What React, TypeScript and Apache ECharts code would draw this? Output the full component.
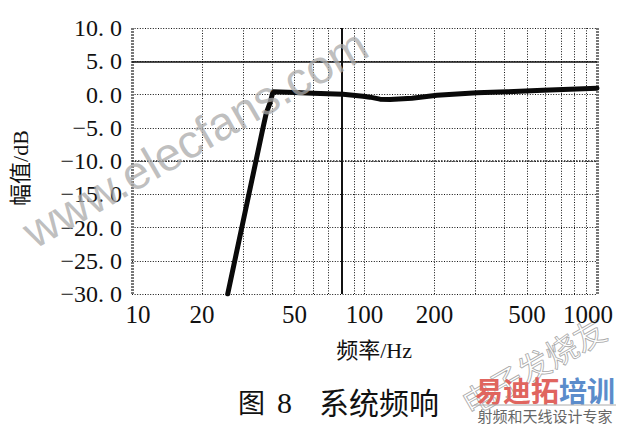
import React, { useEffect, useRef } from "react";
import * as echarts from "echarts";

// Frequency response (Hz, dB)
const freqs = [25.8, 36.6, 37.8, 39.2, 40.4, 50, 60, 80.8, 98.5, 105.6, 116.6, 128.8, 160, 205, 305, 410, 586, 1000];
const gains = [-30, -5.0, -2.8, -1.3, 0.4, 0.3, 0.2, 0.05, -0.25, -0.4, -0.7, -0.75, -0.55, -0.1, 0.25, 0.4, 0.65, 0.95];

const xTickLabels = [10, 20, 50, 100, 200, 500, 1000];
const xMinorGrid = [20, 30, 40, 50, 60, 70, 90, 100, 200, 300, 400, 500, 600, 700, 800, 900];
const xHeavyGrid = [80];
const xFrameGrid = [10, 1000];
const ySolidGrid = [5];
const yHeavyGrid = [-10];

const SERIF = "'Liberation Serif', 'Times New Roman', serif";
const CJK = "'Liberation Serif', 'Noto Sans CJK SC', serif";

export default function App() {
  const ref = useRef<HTMLDivElement>(null);
  useEffect(() => {
    if (!ref.current) return;
    const chart = echarts.init(ref.current, null, { renderer: "svg" });
    const dotted = [1, 1.6];
    const markData: any[] = [];
    xMinorGrid.forEach((v) =>
      markData.push({ xAxis: v, lineStyle: { color: "#111", width: 1, type: dotted } })
    );
    xFrameGrid.forEach((v) =>
      markData.push({ xAxis: v, lineStyle: { color: "#777", width: 3, type: [2, 1] } })
    );
    xHeavyGrid.forEach((v) =>
      markData.push({ xAxis: v, lineStyle: { color: "#111", width: 2, type: "solid" } })
    );
    ySolidGrid.forEach((v) =>
      markData.push({ yAxis: v, lineStyle: { color: "#111", width: 1.5, type: "solid" } })
    );
    yHeavyGrid.forEach((v) =>
      markData.push({ yAxis: v, lineStyle: { color: "#222", width: 1.5, type: [1.5, 1.5] } })
    );

    chart.setOption({
      animation: false,
      backgroundColor: "#fff",
      grid: { left: 132, right: 25, top: 28, bottom: 137, containLabel: false },
      xAxis: {
        type: "log",
        logBase: 10,
        min: 10,
        max: 1000,
        axisLine: { show: false },
        axisTick: { show: false },
        splitLine: { show: false },
        minorSplitLine: { show: false },
        axisLabel: {
          customValues: xTickLabels,
          margin: 8,
          color: "#111",
          fontSize: 25,
          fontFamily: SERIF,
          formatter: (v: number) =>
            v === 10 ? "{first|10}" : v === 1000 ? "{last|1000}" : String(v),
          rich: {
            first: { padding: [0, 0, 0, 12], fontSize: 25, fontFamily: SERIF, color: "#111" },
            last: { padding: [0, 18, 0, 0], fontSize: 25, fontFamily: SERIF, color: "#111" },
          },
        },
      },
      yAxis: {
        type: "value",
        min: -30,
        max: 10,
        interval: 5,
        axisLine: { show: false },
        axisTick: { show: false },
        splitLine: { show: true, lineStyle: { color: "#111", width: 1, type: dotted } },
        axisLabel: {
          margin: 10,
          color: "#111",
          fontSize: 24,
          fontFamily: SERIF,
          formatter: (v: number) =>
            (v < 0 ? "\u2212" : "") + Math.abs(v).toFixed(1).replace(".", ". "),
        },
      },
      series: [
        {
          type: "line",
          z: 1,
          clip: false,
          silent: true,
          data: [[10, -30]],
          symbol: "none",
          lineStyle: { width: 0 },
          markLine: {
            silent: true,
            symbol: "none",
            label: { show: false },
            emphasis: { disabled: true },
            data: markData,
          },
        },
        {
          type: "line",
          z: 5,
          data: freqs.map((f, i) => [f, gains[i]]),
          symbol: "none",
          smooth: false,
          lineStyle: { color: "#0a0a0a", width: 5, join: "round", cap: "round" },
        },
      ],
      graphic: [
        {
          type: "text",
          x: 195,
          y: 138,
          rotation: Math.PI / 6,
          z: 10,
          style: {
            text: "www.elecfans.com",
            fontSize: 47,
            fontFamily: "'Liberation Sans', Arial, sans-serif",
            fill: "rgba(170,170,170,0.75)",
            align: "center",
            verticalAlign: "middle",
          },
        },
        {
          type: "text",
          x: 20,
          y: 168,
          rotation: Math.PI / 2,
          style: {
            text: "幅值/dB",
            fontSize: 22,
            fontFamily: CJK,
            fill: "#111",
            align: "center",
            verticalAlign: "middle",
          },
        },
        {
          type: "text",
          x: 374,
          y: 350,
          style: {
            text: "频率/Hz",
            fontSize: 22,
            fontFamily: CJK,
            fill: "#111",
            align: "center",
            verticalAlign: "middle",
          },
        },
        {
          type: "text",
          x: 238,
          y: 401,
          style: {
            text: "图",
            fontSize: 27,
            fontFamily: "'Noto Sans CJK SC', sans-serif",
            fill: "#111",
            align: "left",
            verticalAlign: "middle",
          },
        },
        {
          type: "text",
          x: 277,
          y: 402,
          style: {
            text: "8",
            fontSize: 30,
            fontFamily: SERIF,
            fill: "#111",
            align: "left",
            verticalAlign: "middle",
          },
        },
        {
          type: "text",
          x: 319,
          y: 401,
          style: {
            text: "系统频响",
            fontSize: 30,
            fontFamily: "'Noto Sans CJK SC', sans-serif",
            fill: "#111",
            align: "left",
            verticalAlign: "middle",
          },
        },
        {
          type: "text",
          x: 533,
          y: 365,
          rotation: Math.PI / 6,
          style: {
            text: "电子发烧友",
            fontSize: 32,
            fontFamily: "'Noto Sans CJK SC', sans-serif",
            fill: "rgba(255,255,255,0)",
            stroke: "#a8a8a8",
            lineWidth: 0.8,
            align: "center",
            verticalAlign: "middle",
          },
        },
        {
          type: "text",
          x: 545,
          y: 390,
          style: {
            text: "{r|易迪拓}{b|培训}",
            align: "center",
            verticalAlign: "middle",
            rich: {
              r: {
                fontSize: 28,
                fontWeight: "bold",
                fontFamily: "'Noto Sans CJK SC', sans-serif",
                fill: "#e0655f",
              },
              b: {
                fontSize: 28,
                fontWeight: "bold",
                fontFamily: "'Noto Sans CJK SC', sans-serif",
                fill: "#5b8ccb",
              },
            },
          },
        },
        {
          type: "line",
          shape: { x1: 474, y1: 405, x2: 616, y2: 405 },
          style: { stroke: "#aaa", lineWidth: 1 },
        },
        {
          type: "text",
          x: 545,
          y: 415,
          style: {
            text: "射频和天线设计专家",
            fontSize: 15,
            fontFamily: "'Noto Sans CJK SC', sans-serif",
            fill: "#666",
            align: "center",
            verticalAlign: "middle",
          },
        },
      ],
    });
    return () => chart.dispose();
  }, []);
  return (
    <div
      ref={ref}
      style={{ position: "absolute", left: 0, top: 0, width: 622, height: 431 }}
    />
  );
}
